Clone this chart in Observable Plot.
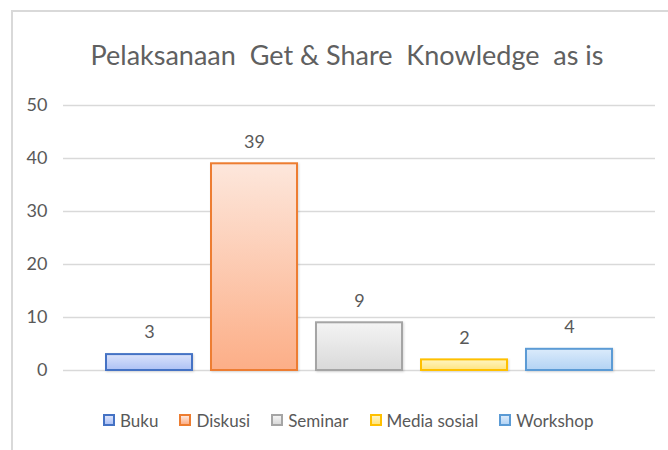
<!DOCTYPE html>
<html>
<head>
<meta charset="utf-8">
<script src="https://cdn.jsdelivr.net/npm/d3@7"></script>
<script src="https://cdn.jsdelivr.net/npm/@observablehq/plot@0.6"></script>
<style>
  html, body { margin: 0; padding: 0; background: #fff; }
  body { width: 668px; height: 450px; overflow: hidden; position: relative; font-family: Lato, "Open Sans", sans-serif; }
  #frame { position: absolute; left: 11px; top: 10px; width: 700px; height: 500px;
           border-top: 2px solid #d9d9d9; border-left: 2px solid #d9d9d9; pointer-events: none; }
  #title { height: 80px; box-sizing: border-box; padding-top: 40px; text-align: center; padding-left: 26px;
           font-size: 27px; line-height: 30px; color: #606060; white-space: pre; }
  #chart svg { display: block; }
  #legend { position: relative; height: 40px; display: flex; align-items: center; padding-left: 103px;
            font-size: 17px; color: #595959; gap: 21px; }
  .item { display: flex; align-items: center; }
  .sw { width: 8px; height: 8px; border: 2px solid; margin-right: 5px; }
</style>
</head>
<body>
<div id="frame"></div>
<div id="title">Pelaksanaan  Get &amp; Share  Knowledge  as is</div>
<div id="chart"></div>
<div id="legend"></div>
<script>
const categories = ["Buku", "Diskusi", "Seminar", "Media sosial", "Workshop"];
const values = [3, 39, 9, 2, 4];
const strokeColors = ["#4472C4", "#ED7D31", "#A5A5A5", "#FFC000", "#5B9BD5"];
const gradTop = ["#dbe3fb", "#fde7dc", "#f4f4f4", "#fff5c2", "#dbebfb"];
const gradBottom = ["#adc1f5", "#fcae87", "#d9d9d9", "#ffe47f", "#b3d3f4"];
const yTicks = [0, 10, 20, 30, 40, 50];

const data = categories.map((c, i) => ({category: c, value: values[i], idx: i}));

const defsMark = () => {
  const defs = d3.create("svg:defs");
  categories.forEach((c, i) => {
    const g = defs.append("linearGradient").attr("id", "g" + i)
      .attr("x1", 0).attr("y1", 0).attr("x2", 0).attr("y2", 1);
    g.append("stop").attr("offset", "0%").attr("stop-color", gradTop[i]);
    g.append("stop").attr("offset", "100%").attr("stop-color", gradBottom[i]);
  });
  const f = defs.append("filter").attr("id", "sh").attr("x", "-10%").attr("y", "-10%").attr("width", "130%").attr("height", "130%");
  f.append("feDropShadow").attr("dx", 1).attr("dy", 1).attr("stdDeviation", 1.2).attr("flood-color", "#000").attr("flood-opacity", 0.15);
  return defs.node();
};

const chart = Plot.plot({
  width: 668,
  height: 320,
  marginLeft: 63,
  marginRight: 13,
  marginTop: 25,
  marginBottom: 30,
  style: {fontFamily: "Lato, 'Open Sans', sans-serif", color: "#595959", background: "transparent"},
  x: {domain: categories, paddingInner: 0.185, paddingOuter: 0.4, axis: null},
  y: {domain: [0, 50], ticks: yTicks, label: null},
  marks: [
    defsMark,
    Plot.gridY(yTicks, {stroke: "#d9d9d9", strokeOpacity: 1, strokeWidth: 1.5}),
    Plot.axisY(yTicks, {tickSize: 0, tickPadding: 16, fontSize: 18, fill: "#595959", label: null}),
    Plot.barY(data, {x: "category", y: "value", fill: d => `url(#g${d.idx})`, stroke: d => strokeColors[d.idx], strokeWidth: 2}),
    Plot.text(data, {x: "category", y: "value", text: d => String(d.value), dy: -22, fontSize: 18, fill: "#595959"})
  ]
});
chart.querySelectorAll("rect").forEach(r => r.setAttribute("filter", "url(#sh)"));
document.getElementById("chart").appendChild(chart);

const legend = document.getElementById("legend");
categories.forEach((c, i) => {
  const it = document.createElement("div");
  it.className = "item";
  const sw = document.createElement("div");
  sw.className = "sw";
  sw.style.borderColor = strokeColors[i];
  sw.style.background = `linear-gradient(${gradTop[i]}, ${gradBottom[i]})`;
  const t = document.createElement("span");
  t.textContent = c;
  it.appendChild(sw);
  it.appendChild(t);
  legend.appendChild(it);
});
</script>
</body>
</html>
